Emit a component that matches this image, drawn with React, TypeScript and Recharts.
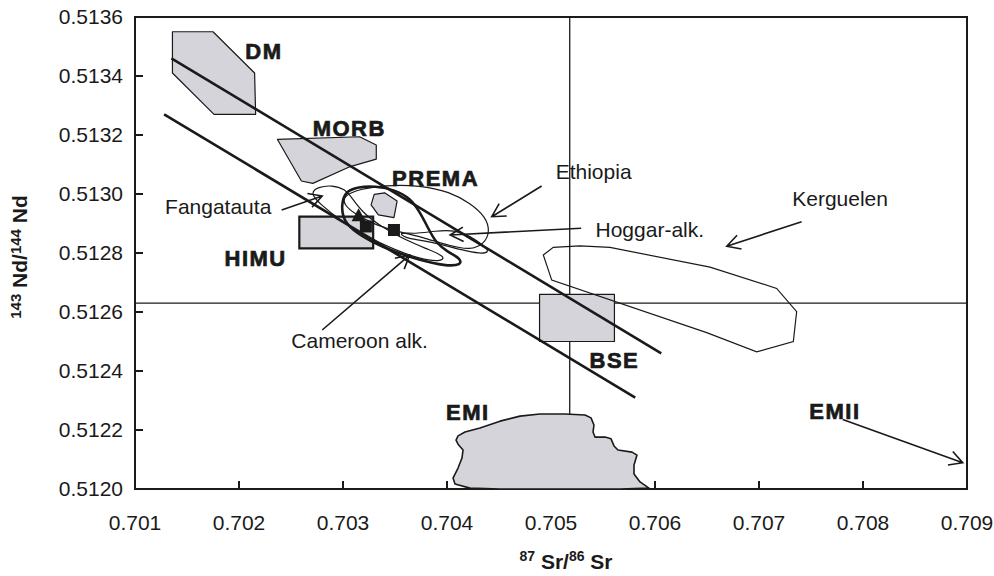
import React from "react";
import {
  ScatterChart,
  Scatter,
  XAxis,
  YAxis,
  ReferenceLine,
  ReferenceArea,
  Label,
} from "recharts";

// axes
const xTicks = [0.701, 0.702, 0.703, 0.704, 0.705, 0.706, 0.707, 0.708, 0.709];
const yTicks = [0.512, 0.5122, 0.5124, 0.5126, 0.5128, 0.513, 0.5132, 0.5134, 0.5136];
const bseSr = 0.70518;
const bseNd = 0.51263;

// shaded reservoirs
const dmField = [
  { x: 0.70136, y: 0.51355 },
  { x: 0.70175, y: 0.51355 },
  { x: 0.70215, y: 0.51341 },
  { x: 0.70216, y: 0.51327 },
  { x: 0.70176, y: 0.51327 },
  { x: 0.70136, y: 0.51341 },
];
const morbField = [
  { x: 0.70237, y: 0.513185 },
  { x: 0.70316, y: 0.513194 },
  { x: 0.70332, y: 0.513166 },
  { x: 0.70332, y: 0.513118 },
  { x: 0.70307, y: 0.513093 },
  { x: 0.70271, y: 0.513036 },
  { x: 0.7026, y: 0.513044 },
];
const premaField = [
  { x: 0.7033, y: 0.512999 },
  { x: 0.7034, y: 0.513004 },
  { x: 0.70352, y: 0.512976 },
  { x: 0.70349, y: 0.51292 },
  { x: 0.70334, y: 0.512929 },
  { x: 0.70327, y: 0.512963 },
];
const himuField = [
  { x: 0.70258, y: 0.512923 },
  { x: 0.70329, y: 0.512923 },
  { x: 0.70329, y: 0.512816 },
  { x: 0.70258, y: 0.512816 },
];
const bseField = [
  { x: 0.70489, y: 0.51266 },
  { x: 0.70561, y: 0.51266 },
  { x: 0.70561, y: 0.5125 },
  { x: 0.70489, y: 0.5125 },
];
const emiField = [
  { x: 0.704106, y: 0.51218 },
  { x: 0.704173, y: 0.512193 },
  { x: 0.704317, y: 0.512207 },
  { x: 0.70451, y: 0.51223 },
  { x: 0.704702, y: 0.512247 },
  { x: 0.704894, y: 0.512254 },
  { x: 0.705135, y: 0.512254 },
  { x: 0.705327, y: 0.512251 },
  { x: 0.705385, y: 0.512241 },
  { x: 0.705413, y: 0.512217 },
  { x: 0.705404, y: 0.512193 },
  { x: 0.705423, y: 0.512176 },
  { x: 0.705519, y: 0.512176 },
  { x: 0.705577, y: 0.51217 },
  { x: 0.705606, y: 0.512146 },
  { x: 0.705644, y: 0.512132 },
  { x: 0.705779, y: 0.512125 },
  { x: 0.705827, y: 0.512115 },
  { x: 0.705798, y: 0.512081 },
  { x: 0.705798, y: 0.512051 },
  { x: 0.705856, y: 0.512024 },
  { x: 0.705942, y: 0.512003 },
  { x: 0.705663, y: 0.512 },
  { x: 0.705086, y: 0.512 },
  { x: 0.70451, y: 0.512 },
  { x: 0.704221, y: 0.512003 },
  { x: 0.704077, y: 0.512017 },
  { x: 0.704058, y: 0.512037 },
  { x: 0.704106, y: 0.512071 },
  { x: 0.704144, y: 0.512105 },
  { x: 0.704154, y: 0.512132 },
  { x: 0.704106, y: 0.512152 },
  { x: 0.704087, y: 0.512166 },
];

// outlined fields
const kerguelenField = [
  { x: 0.704926, y: 0.512793 },
  { x: 0.705022, y: 0.512819 },
  { x: 0.705279, y: 0.512824 },
  { x: 0.705567, y: 0.512819 },
  { x: 0.706529, y: 0.512752 },
  { x: 0.70717, y: 0.51268 },
  { x: 0.707362, y: 0.512601 },
  { x: 0.70733, y: 0.5125 },
  { x: 0.706978, y: 0.512465 },
  { x: 0.706497, y: 0.51253 },
  { x: 0.705007, y: 0.512708 },
];
const ethiopiaField = [
  { x: 0.703, y: 0.512993 },
  { x: 0.703163, y: 0.513017 },
  { x: 0.703404, y: 0.51303 },
  { x: 0.70374, y: 0.51303 },
  { x: 0.704029, y: 0.513007 },
  { x: 0.704221, y: 0.512969 },
  { x: 0.704375, y: 0.512922 },
  { x: 0.704413, y: 0.512871 },
  { x: 0.704356, y: 0.51283 },
  { x: 0.704221, y: 0.51281 },
  { x: 0.704029, y: 0.512824 },
  { x: 0.703788, y: 0.512851 },
  { x: 0.703548, y: 0.512871 },
  { x: 0.703308, y: 0.512895 },
  { x: 0.703115, y: 0.512932 },
  { x: 0.70301, y: 0.512963 },
];
const cameroonField = [
  { x: 0.70299, y: 0.51298 },
  { x: 0.703038, y: 0.51301 },
  { x: 0.703144, y: 0.513024 },
  { x: 0.703308, y: 0.513027 },
  { x: 0.7035, y: 0.513014 },
  { x: 0.703644, y: 0.512986 },
  { x: 0.70374, y: 0.512939 },
  { x: 0.703817, y: 0.512885 },
  { x: 0.703894, y: 0.512834 },
  { x: 0.70401, y: 0.512803 },
  { x: 0.704125, y: 0.512783 },
  { x: 0.704144, y: 0.512759 },
  { x: 0.703981, y: 0.512756 },
  { x: 0.70374, y: 0.512776 },
  { x: 0.7035, y: 0.512803 },
  { x: 0.703279, y: 0.512837 },
  { x: 0.703087, y: 0.512878 },
  { x: 0.70299, y: 0.512919 },
];
const hoggarField = [
  { x: 0.703529, y: 0.512871 },
  { x: 0.703692, y: 0.512864 },
  { x: 0.703885, y: 0.512875 },
  { x: 0.704077, y: 0.512878 },
  { x: 0.704221, y: 0.512858 },
  { x: 0.704356, y: 0.512824 },
  { x: 0.704413, y: 0.512803 },
  { x: 0.704317, y: 0.512797 },
  { x: 0.704144, y: 0.51281 },
  { x: 0.703933, y: 0.51283 },
  { x: 0.70374, y: 0.512844 },
  { x: 0.703596, y: 0.512851 },
];
const fangatautaField = [
  { x: 0.702683, y: 0.513003 },
  { x: 0.70276, y: 0.513024 },
  { x: 0.702894, y: 0.51303 },
  { x: 0.703019, y: 0.513017 },
  { x: 0.703087, y: 0.512986 },
  { x: 0.703183, y: 0.512939 },
  { x: 0.703356, y: 0.512892 },
  { x: 0.703596, y: 0.512844 },
  { x: 0.703837, y: 0.51281 },
  { x: 0.70399, y: 0.512786 },
  { x: 0.703933, y: 0.51277 },
  { x: 0.70374, y: 0.51278 },
  { x: 0.7035, y: 0.51281 },
  { x: 0.703212, y: 0.512858 },
  { x: 0.70297, y: 0.512912 },
  { x: 0.702779, y: 0.512966 },
];

// mantle array lines
const mantleUpper = [
  { x: 0.70135, y: 0.51346 },
  { x: 0.70606, y: 0.51246 },
];
const mantleLower = [
  { x: 0.70128, y: 0.51327 },
  { x: 0.70581, y: 0.51231 },
];

// samples
const triangleSamples = [{ x: 0.70315, y: 0.512925 }];
const squareSamples = [
  { x: 0.70322, y: 0.51289 },
  { x: 0.70349, y: 0.512878 },
];

// arrows (from label to field)
const arrowFangatauta = [
  { x: 0.70241, y: 0.512946 },
  { x: 0.7028, y: 0.512993 },
];
const arrowEthiopia = [
  { x: 0.70491, y: 0.513027 },
  { x: 0.70443, y: 0.512923 },
];
const arrowHoggar = [
  { x: 0.70529, y: 0.512884 },
  { x: 0.70403, y: 0.512861 },
];
const arrowKerguelen = [
  { x: 0.70741, y: 0.512906 },
  { x: 0.70669, y: 0.512823 },
];
const arrowCameroon = [
  { x: 0.7028, y: 0.512539 },
  { x: 0.70364, y: 0.512793 },
];
const arrowEmii = [
  { x: 0.707805, y: 0.512236 },
  { x: 0.708959, y: 0.512089 },
];

// labels
const reservoirLabels = [
  { x: 0.70224, y: 0.513485, name: "DM" },
  { x: 0.70306, y: 0.513224, name: "MORB" },
  { x: 0.70389, y: 0.513054, name: "PREMA" },
  { x: 0.70216, y: 0.512783, name: "HIMU" },
  { x: 0.70561, y: 0.512437, name: "BSE" },
  { x: 0.7042, y: 0.512261, name: "EMI" },
  { x: 0.70773, y: 0.512264, name: "EMII" },
];
const localityLabels = [
  { x: 0.7018, y: 0.512959, name: "Fangatauta" },
  { x: 0.70541, y: 0.513078, name: "Ethiopia" },
  { x: 0.70595, y: 0.512881, name: "Hoggar-alk." },
  { x: 0.70778, y: 0.512986, name: "Kerguelen" },
  { x: 0.70316, y: 0.512505, name: "Cameroon alk." },
];

const INK = "#1a1a1a";
const SHADE = "#d4d4da";

const noDot = () => <g />;

function arrowLine(props: any) {
  const pts = props.points;
  if (!pts || pts.length < 2) return <g />;
  const a = pts[0];
  const b = pts[1];
  const ang = Math.atan2(b.y - a.y, b.x - a.x);
  const len = 15;
  const spread = 0.5;
  const l1x = b.x - len * Math.cos(ang - spread);
  const l1y = b.y - len * Math.sin(ang - spread);
  const l2x = b.x - len * Math.cos(ang + spread);
  const l2y = b.y - len * Math.sin(ang + spread);
  return (
    <path
      d={`M${a.x},${a.y}L${b.x},${b.y}M${l1x},${l1y}L${b.x},${b.y}L${l2x},${l2y}`}
      stroke={INK}
      strokeWidth={1.6}
      fill="none"
    />
  );
}

function boldLabel(props: any) {
  const { cx, cy } = props;
  const name = props.payload?.name ?? props.name;
  return (
    <text
      x={cx}
      y={cy + 8}
      textAnchor="middle"
      fontSize={22}
      fontWeight={700}
      letterSpacing={1.5}
      fill={INK}
      stroke={INK}
      strokeWidth={0.7}
    >
      {name}
    </text>
  );
}

function plainLabel(props: any) {
  const { cx, cy } = props;
  const name = props.payload?.name ?? props.name;
  return (
    <text x={cx} y={cy + 8} textAnchor="middle" fontSize={21} fill={INK}>
      {name}
    </text>
  );
}

function triangleDot(props: any) {
  const { cx, cy } = props;
  return (
    <polygon
      points={`${cx},${cy - 8} ${cx - 7},${cy + 5} ${cx + 7},${cy + 5}`}
      fill={INK}
    />
  );
}

function squareDot(props: any) {
  const { cx, cy } = props;
  return <rect x={cx - 6} y={cy - 6} width={12} height={12} fill={INK} />;
}

function XTitle(props: any) {
  const vb = props.viewBox || { x: 135, y: 489, width: 832 };
  const x = vb.x + vb.width / 2 + 15;
  const y = 569;
  return (
    <text x={x} y={y} textAnchor="middle" fontWeight={700} fill={INK}>
      <tspan fontSize={14} dy={-8}>87</tspan>
      <tspan fontSize={21} dy={8}>{"\u00a0Sr/"}</tspan>
      <tspan fontSize={14} dy={-8}>86</tspan>
      <tspan fontSize={21} dy={8}>{"\u00a0Sr"}</tspan>
    </text>
  );
}

function YTitle(props: any) {
  const vb = props.viewBox || { y: 17, height: 472 };
  const x = 27;
  const y = vb.y + vb.height / 2 + 4;
  return (
    <text
      x={x}
      y={y}
      textAnchor="middle"
      fontWeight={700}
      fill={INK}
      transform={`rotate(-90, ${x}, ${y})`}
    >
      <tspan fontSize={15} dy={-6}>143</tspan>
      <tspan fontSize={21} dy={6}>{"\u00a0Nd/"}</tspan>
      <tspan fontSize={15} dy={-6}>144</tspan>
      <tspan fontSize={21} dy={6}>{"\u00a0Nd"}</tspan>
    </text>
  );
}

const shaded = { stroke: INK, strokeWidth: 1.2, fill: SHADE, strokeLinejoin: "round" as const };
const outline = { stroke: INK, strokeWidth: 1.2, fill: "none" };

export default function App() {
  return (
    <div
      style={{
        position: "absolute",
        left: 0,
        top: 0,
        width: 994,
        height: 576,
        background: "#fff",
        fontFamily: "'Liberation Sans', Arial, sans-serif",
      }}
    >
      <ScatterChart
        width={994}
        height={576}
        margin={{ top: 17, right: 27, bottom: 37, left: 55 }}
      >
        <XAxis
          type="number"
          dataKey="x"
          domain={[0.701, 0.709]}
          ticks={xTicks}
          allowDataOverflow
          height={50}
          tickFormatter={(v: number) => v.toFixed(3)}
          tick={{ fontSize: 21, fill: INK }}
          tickSize={-8}
          tickMargin={34}
          stroke={INK}
          strokeWidth={2}
          interval={0}
        >
          <Label content={XTitle} />
        </XAxis>
        <YAxis
          type="number"
          dataKey="y"
          domain={[0.512, 0.5136]}
          ticks={yTicks}
          allowDataOverflow
          width={80}
          tickFormatter={(v: number) => v.toFixed(4)}
          tick={{ fontSize: 21, fill: INK }}
          tickSize={-8}
          tickMargin={20}
          stroke={INK}
          strokeWidth={2}
          interval={0}
        >
          <Label content={YTitle} />
        </YAxis>

        <ReferenceArea
          x1={0.701}
          x2={0.709}
          y1={0.512}
          y2={0.5136}
          fill="none"
          stroke={INK}
          strokeWidth={2}
        />

        <Scatter data={dmField} shape={noDot} line={shaded} lineJointType="linearClosed" isAnimationActive={false} />
        <Scatter data={morbField} shape={noDot} line={shaded} lineJointType="linearClosed" isAnimationActive={false} />
        <Scatter data={premaField} shape={noDot} line={shaded} lineJointType="linearClosed" isAnimationActive={false} />
        <Scatter
          data={himuField}
          shape={noDot}
          line={{ stroke: INK, strokeWidth: 2.2, fill: SHADE }}
          lineJointType="linearClosed"
          isAnimationActive={false}
        />
        <Scatter data={bseField} shape={noDot} line={shaded} lineJointType="linearClosed" isAnimationActive={false} />
        <Scatter data={emiField} shape={noDot} line={{ ...shaded, strokeWidth: 1.6 }} lineJointType="linearClosed" isAnimationActive={false} />

        <Scatter data={kerguelenField} shape={noDot} line={outline} lineJointType="linearClosed" isAnimationActive={false} />
        <Scatter data={ethiopiaField} shape={noDot} line={outline} lineJointType="basisClosed" isAnimationActive={false} />
        <Scatter data={fangatautaField} shape={noDot} line={outline} lineJointType="basisClosed" isAnimationActive={false} />
        <Scatter data={hoggarField} shape={noDot} line={outline} lineJointType="basisClosed" isAnimationActive={false} />
        <Scatter
          data={cameroonField}
          shape={noDot}
          line={{ stroke: INK, strokeWidth: 2.6, fill: "none" }}
          lineJointType="basisClosed"
          isAnimationActive={false}
        />

        <Scatter data={mantleUpper} shape={noDot} line={{ stroke: INK, strokeWidth: 2.6 }} isAnimationActive={false} />
        <Scatter data={mantleLower} shape={noDot} line={{ stroke: INK, strokeWidth: 2.6 }} isAnimationActive={false} />

        <Scatter data={arrowFangatauta} shape={noDot} line={arrowLine} isAnimationActive={false} />
        <Scatter data={arrowEthiopia} shape={noDot} line={arrowLine} isAnimationActive={false} />
        <Scatter data={arrowHoggar} shape={noDot} line={arrowLine} isAnimationActive={false} />
        <Scatter data={arrowKerguelen} shape={noDot} line={arrowLine} isAnimationActive={false} />
        <Scatter data={arrowCameroon} shape={noDot} line={arrowLine} isAnimationActive={false} />
        <Scatter data={arrowEmii} shape={noDot} line={arrowLine} isAnimationActive={false} />

        <Scatter data={triangleSamples} shape={triangleDot} isAnimationActive={false} />
        <Scatter data={squareSamples} shape={squareDot} isAnimationActive={false} />

        <Scatter data={reservoirLabels} shape={boldLabel} isAnimationActive={false} />
        <Scatter data={localityLabels} shape={plainLabel} isAnimationActive={false} />

        <ReferenceLine x={bseSr} stroke={INK} strokeWidth={1.3} />
        <ReferenceLine y={bseNd} stroke={INK} strokeWidth={1.3} />
      </ScatterChart>
    </div>
  );
}
